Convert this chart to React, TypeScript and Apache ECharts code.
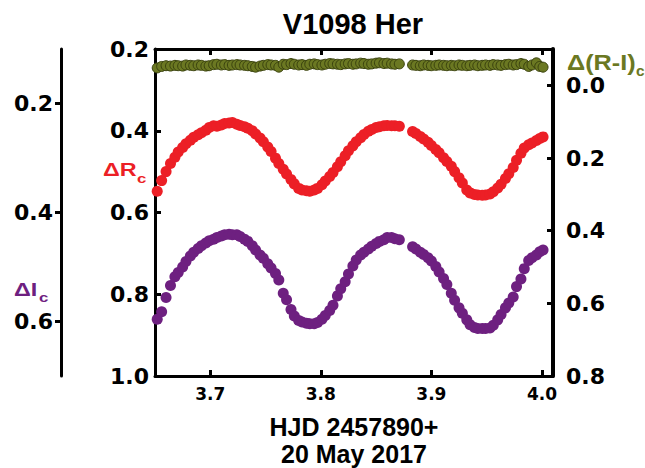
import React, { useEffect, useRef } from "react";
import * as echarts from "echarts";

const times = [
  3.652, 3.656, 3.660, 3.664, 3.668, 3.671, 3.675, 3.678, 3.682, 3.685,
  3.689, 3.692, 3.696, 3.699, 3.703, 3.706, 3.710, 3.713, 3.717, 3.720,
  3.724, 3.727, 3.731, 3.734, 3.738, 3.741, 3.745, 3.748, 3.752, 3.755,
  3.759, 3.762, 3.766, 3.769, 3.773, 3.776, 3.780, 3.783, 3.787, 3.790,
  3.794, 3.797, 3.801, 3.804, 3.808, 3.811, 3.815, 3.818, 3.822, 3.825,
  3.829, 3.832, 3.836, 3.839, 3.843, 3.846, 3.850, 3.853, 3.857, 3.860,
  3.864, 3.867, 3.871,
  3.883, 3.886, 3.890, 3.893, 3.897, 3.900, 3.904, 3.907, 3.911, 3.914,
  3.918, 3.921, 3.925, 3.928, 3.932, 3.935, 3.939, 3.942, 3.946, 3.949,
  3.953, 3.956, 3.960, 3.963, 3.967, 3.970, 3.974, 3.977, 3.981, 3.984,
  3.988, 3.991, 3.995, 3.998, 4.001,
];

// ΔRc (inner left axis)
const rcValues = [
  0.548, 0.522, 0.500, 0.480, 0.465, 0.452, 0.441, 0.432, 0.423, 0.416,
  0.410, 0.405, 0.399, 0.392, 0.388, 0.389, 0.386, 0.382, 0.381, 0.380,
  0.384, 0.387, 0.390, 0.394, 0.400, 0.408, 0.418, 0.427, 0.440, 0.451,
  0.467, 0.480, 0.494, 0.506, 0.519, 0.530, 0.541, 0.545, 0.547, 0.548,
  0.545, 0.541, 0.532, 0.523, 0.512, 0.502, 0.488, 0.476, 0.461, 0.449,
  0.437, 0.427, 0.417, 0.409, 0.401, 0.397, 0.392, 0.390, 0.388, 0.387,
  0.388, 0.388, 0.389,
  0.402, 0.407, 0.414, 0.420, 0.428, 0.436, 0.446, 0.454, 0.466, 0.475,
  0.487, 0.500, 0.515, 0.528, 0.545, 0.552, 0.556, 0.557, 0.558, 0.557,
  0.555, 0.549, 0.540, 0.531, 0.517, 0.505, 0.490, 0.472, 0.455, 0.442,
  0.434, 0.430, 0.424, 0.419, 0.415,
];

// ΔIc (outer left axis)
const icValues = [
  0.596, 0.582, 0.556, 0.534, 0.518, 0.510, 0.500, 0.490, 0.480, 0.473,
  0.466, 0.461, 0.456, 0.452, 0.449, 0.446, 0.443, 0.441, 0.440, 0.441,
  0.441, 0.444, 0.449, 0.453, 0.461, 0.469, 0.478, 0.484, 0.494, 0.502,
  0.512, 0.524, 0.548, 0.560, 0.578, 0.590, 0.598, 0.601, 0.603, 0.604,
  0.604, 0.602, 0.596, 0.589, 0.580, 0.570, 0.553, 0.540, 0.527, 0.513,
  0.498, 0.487, 0.478, 0.473, 0.467, 0.462, 0.457, 0.453, 0.450, 0.446,
  0.446, 0.448, 0.450,
  0.463, 0.467, 0.473, 0.477, 0.483, 0.489, 0.499, 0.509, 0.521, 0.532,
  0.548, 0.561, 0.575, 0.585, 0.597, 0.606, 0.611, 0.613, 0.613, 0.613,
  0.612, 0.607, 0.597, 0.587, 0.575, 0.566, 0.555, 0.536, 0.522, 0.503,
  0.488, 0.483, 0.478, 0.472, 0.469,
];

// Δ(R-I)c (right axis)
const riValues = [
  -0.048, -0.052, -0.054, -0.053, -0.055, -0.054, -0.053, -0.056, -0.055, -0.054,
  -0.056, -0.055, -0.053, -0.054, -0.057, -0.058, -0.056, -0.057, -0.055, -0.056,
  -0.057, -0.056, -0.055, -0.054, -0.052, -0.050, -0.053, -0.055, -0.057, -0.056,
  -0.055, -0.050, -0.058, -0.057, -0.060, -0.058, -0.056, -0.057, -0.055, -0.058,
  -0.059, -0.057, -0.056, -0.058, -0.060, -0.059, -0.058, -0.057, -0.059, -0.060,
  -0.058, -0.059, -0.061, -0.060, -0.058, -0.059, -0.061, -0.062, -0.060, -0.061,
  -0.059, -0.058, -0.059,
  -0.056, -0.055, -0.054, -0.056, -0.055, -0.054, -0.055, -0.056, -0.055, -0.054,
  -0.055, -0.054, -0.056, -0.055, -0.054, -0.055, -0.056, -0.054, -0.055, -0.056,
  -0.055, -0.057, -0.056, -0.055, -0.057, -0.058, -0.056, -0.057, -0.060, -0.058,
  -0.052, -0.056, -0.062, -0.052, -0.050,
];

const xTicks = [3.7, 3.8, 3.9, 4.0];
const outerLeftTicks = [0.2, 0.4, 0.6];
const rightTicks = [0.0, 0.2, 0.4, 0.6, 0.8];

const RED = "#ec1f26";
const PURPLE = "#6e2080";
const OLIVE = "#6b7822";
const LABEL_FONT = "DejaVu Sans";
const TEXT_FONT = "Liberation Sans";

export default function App() {
  const ref = useRef<HTMLDivElement>(null);

  useEffect(() => {
    if (!ref.current) return;
    const chart = echarts.init(ref.current, undefined, { renderer: "svg" });
    const fmt = (v: number) => Number(v).toFixed(1);
    const lineStyle = { color: "#000", width: 3 };
    const tickLabel = {
      color: "#000",
      fontFamily: LABEL_FONT,
      fontWeight: "bold" as const,
      fontSize: 22,
      formatter: fmt,
    };

    chart.setOption({
      animation: false,
      backgroundColor: "#fff",
      textStyle: { fontFamily: TEXT_FONT },
      title: {
        text: "V1098 Her",
        left: 348,
        top: 4,
        textAlign: "center",
        textStyle: {
          fontFamily: TEXT_FONT,
          fontWeight: "bold",
          fontSize: 29,
          color: "#000",
        },
      },
      grid: {
        left: 155,
        right: 92,
        top: 49,
        bottom: 92,
        containLabel: false,
        outerBoundsMode: "none",
      },
      xAxis: [
        {
          type: "value",
          position: "bottom",
          min: 3.65,
          max: 4.01,
          axisLine: { show: true, onZero: false, lineStyle },
          axisTick: {
            show: true,
            inside: true,
            length: 6,
            lineStyle: { width: 3, color: "#000" },
            customValues: xTicks,
          },
          axisLabel: {
            ...tickLabel,
            fontSize: 17,
            margin: 9,
            customValues: xTicks,
          },
          splitLine: { show: false },
          name: "HJD 2457890+\n20 May 2017",
          nameLocation: "middle",
          nameGap: 37,
          nameTextStyle: {
            fontFamily: TEXT_FONT,
            fontWeight: "bold",
            fontSize: 25,
            lineHeight: 27,
            color: "#000",
            verticalAlign: "top",
          },
        },
        {
          type: "value",
          position: "top",
          min: 3.65,
          max: 4.01,
          axisLine: { show: true, onZero: false, lineStyle },
          axisTick: {
            show: true,
            inside: true,
            length: 6,
            lineStyle: { width: 3, color: "#000" },
            customValues: xTicks,
          },
          axisLabel: { show: false },
          splitLine: { show: false },
        },
      ],
      yAxis: [
        {
          type: "value",
          position: "left",
          inverse: true,
          min: 0.2,
          max: 1.0,
          interval: 0.2,
          axisLine: { show: true, onZero: false, lineStyle },
          axisTick: {
            show: true,
            inside: true,
            length: 6,
            lineStyle: { width: 3, color: "#000" },
          },
          axisLabel: { ...tickLabel, margin: 6 },
          splitLine: { show: false },
        },
        {
          type: "value",
          position: "left",
          offset: 94,
          inverse: true,
          min: 0.1,
          max: 0.7,
          axisLine: { show: true, onZero: false, lineStyle },
          axisTick: {
            show: true,
            inside: false,
            length: 6,
            lineStyle: { width: 3, color: "#000" },
            customValues: outerLeftTicks,
          },
          axisLabel: { ...tickLabel, margin: 8, customValues: outerLeftTicks },
          splitLine: { show: false },
        },
        {
          type: "value",
          position: "right",
          inverse: true,
          min: -0.1,
          max: 0.8,
          axisLine: { show: true, onZero: false, lineStyle: { color: "#000", width: 4 } },
          axisTick: {
            show: true,
            inside: true,
            length: 6,
            lineStyle: { width: 3, color: "#000" },
            customValues: rightTicks,
          },
          axisLabel: { ...tickLabel, margin: 13, customValues: rightTicks },
          splitLine: { show: false },
        },
      ],
      graphic: [
        {
          type: "text",
          x: 103,
          y: 161,
          scaleX: 1.3,
          style: { text: "ΔR", fill: RED, font: `bold 18px "${TEXT_FONT}"` },
        },
        {
          type: "text",
          x: 137,
          y: 172,
          scaleX: 1.3,
          style: { text: "c", fill: RED, font: `bold 13px "${TEXT_FONT}"` },
        },
        {
          type: "text",
          x: 14,
          y: 281,
          scaleX: 1.3,
          style: { text: "ΔI", fill: PURPLE, font: `bold 18px "${TEXT_FONT}"` },
        },
        {
          type: "text",
          x: 39,
          y: 291,
          scaleX: 1.3,
          style: { text: "c", fill: PURPLE, font: `bold 13px "${TEXT_FONT}"` },
        },
        {
          type: "text",
          x: 567,
          y: 52,
          scaleX: 1.15,
          style: { text: "Δ(R-I)", fill: OLIVE, font: `bold 22px "${TEXT_FONT}"` },
        },
        {
          type: "text",
          x: 636,
          y: 64,
          scaleX: 1.1,
          style: { text: "c", fill: OLIVE, font: `bold 14px "${TEXT_FONT}"` },
        },
      ],
      series: [
        {
          name: "ΔRc",
          type: "scatter",
          xAxisIndex: 0,
          yAxisIndex: 0,
          symbolSize: 11,
          itemStyle: { color: RED, opacity: 1 },
          data: times.map((t, i) => [t, rcValues[i]]),
        },
        {
          name: "ΔIc",
          type: "scatter",
          xAxisIndex: 0,
          yAxisIndex: 1,
          symbolSize: 11,
          itemStyle: { color: PURPLE, opacity: 1 },
          data: times.map((t, i) => [t, icValues[i]]),
        },
        {
          name: "Δ(R-I)c",
          type: "scatter",
          xAxisIndex: 0,
          yAxisIndex: 2,
          symbolSize: 10,
          itemStyle: { color: OLIVE, borderColor: "#3a420e", borderWidth: 1, opacity: 1 },
          data: times.map((t, i) => [t, riValues[i]]),
        },
      ],
    });

    return () => chart.dispose();
  }, []);

  return (
    <div
      ref={ref}
      style={{ position: "absolute", left: 0, top: 0, width: 645, height: 468 }}
    />
  );
}
